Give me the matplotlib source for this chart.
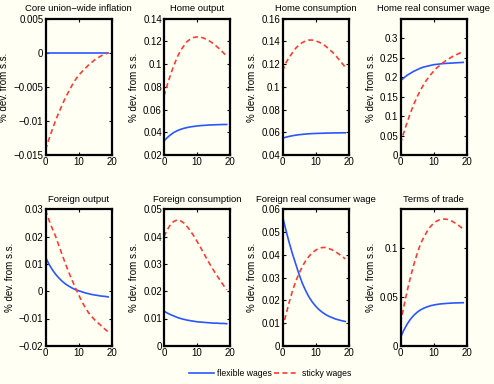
import numpy as np
import matplotlib
matplotlib.use("Agg")
import matplotlib.pyplot as plt
from matplotlib.ticker import FuncFormatter

# ====================
# basic style
# ====================
plt.rcParams['font.family'] = ['Liberation Sans', 'DejaVu Sans']
plt.rcParams['font.size'] = 7
plt.rcParams['axes.linewidth'] = 1.6
plt.rcParams['xtick.direction'] = 'in'
plt.rcParams['ytick.direction'] = 'in'

BG = '#fffff4'
BLUE = '#2a56ff'
RED = '#ff3b30'

# ====================
# data (horizon 0..19)
# ====================
periods = np.arange(20)

titles = ["Core union\u2212wide inflation", "Home output", "Home consumption",
          "Home real consumer wage", "Foreign output", "Foreign consumption",
          "Foreign real consumer wage", "Terms of trade"]

flex_infl = [0.0] * 20
sticky_infl = [-0.0142, -0.0127, -0.0113, -0.0100, -0.0088, -0.0077, -0.0066, -0.0057,
               -0.0048, -0.0040, -0.0033, -0.0028, -0.0023, -0.0018, -0.0014, -0.0010,
               -0.0007, -0.0004, -0.0002, 0.0000]

flex_hy = [0.0325, 0.0355, 0.0380, 0.0400, 0.0415, 0.0427, 0.0436, 0.0443, 0.0449, 0.0453,
           0.0457, 0.0460, 0.0462, 0.0464, 0.0466, 0.0467, 0.0468, 0.0469, 0.0470, 0.0470]
sticky_hy = [0.072, 0.082, 0.091, 0.099, 0.106, 0.112, 0.116, 0.120, 0.122, 0.1235,
             0.124, 0.1238, 0.123, 0.1215, 0.120, 0.118, 0.1155, 0.113, 0.110, 0.107]

flex_hc = [0.0550, 0.0558, 0.0565, 0.0571, 0.0576, 0.0580, 0.0583, 0.0586, 0.0588, 0.0590,
           0.0591, 0.0592, 0.0593, 0.0594, 0.0595, 0.0595, 0.0596, 0.0596, 0.0597, 0.0597]
sticky_hc = [0.114, 0.121, 0.126, 0.130, 0.134, 0.137, 0.139, 0.1405, 0.1412, 0.1412,
             0.1405, 0.1395, 0.138, 0.136, 0.1335, 0.131, 0.128, 0.1245, 0.121, 0.1175]

flex_hw = [0.191, 0.198, 0.205, 0.210, 0.215, 0.219, 0.223, 0.226, 0.228, 0.230,
           0.232, 0.233, 0.234, 0.235, 0.2355, 0.236, 0.2365, 0.237, 0.2375, 0.238]
sticky_hw = [0.030, 0.058, 0.084, 0.108, 0.130, 0.149, 0.166, 0.181, 0.194, 0.205,
             0.215, 0.224, 0.231, 0.238, 0.244, 0.249, 0.254, 0.258, 0.262, 0.266]

flex_fy = [0.0125, 0.0100, 0.0080, 0.0063, 0.0049, 0.0037, 0.0027, 0.0019, 0.0012, 0.0006,
           0.0002, -0.0002, -0.0006, -0.0009, -0.0012, -0.0014, -0.0016, -0.0018, -0.0019, -0.0021]
sticky_fy = [0.0297, 0.0262, 0.0231, 0.0203, 0.0169, 0.0135, 0.0102, 0.0071, 0.0042, 0.0014,
             -0.0012, -0.0037, -0.0059, -0.0078, -0.0093, -0.0106, -0.0117, -0.0128, -0.0139, -0.0149]

flex_fc = [0.0127, 0.0120, 0.0114, 0.0109, 0.0104, 0.0100, 0.0097, 0.0094, 0.0092, 0.0090,
           0.0088, 0.0087, 0.0086, 0.0085, 0.0084, 0.0083, 0.0083, 0.0082, 0.0082, 0.0081]
sticky_fc = [0.0400, 0.0425, 0.0445, 0.0456, 0.0461, 0.0458, 0.0450, 0.0437, 0.0421, 0.0403,
             0.0383, 0.0362, 0.0340, 0.0318, 0.0297, 0.0277, 0.0258, 0.0240, 0.0222, 0.0205]

flex_fw = [0.0570, 0.0510, 0.0455, 0.0405, 0.0360, 0.0315, 0.0275, 0.0243, 0.0215, 0.0193,
           0.0175, 0.0160, 0.0148, 0.0138, 0.0130, 0.0124, 0.0118, 0.0114, 0.0110, 0.0107]
sticky_fw = [0.0078, 0.0135, 0.0190, 0.0240, 0.0283, 0.0318, 0.0348, 0.0373, 0.0393, 0.0409,
             0.0420, 0.0428, 0.0432, 0.0432, 0.0428, 0.0422, 0.0414, 0.0404, 0.0394, 0.0382]

flex_tot = [0.0085, 0.0160, 0.0222, 0.0272, 0.0312, 0.0343, 0.0367, 0.0385, 0.0399, 0.0410,
            0.0418, 0.0424, 0.0429, 0.0432, 0.0435, 0.0437, 0.0439, 0.0440, 0.0441, 0.0442]
sticky_tot = [0.0235, 0.040, 0.056, 0.070, 0.083, 0.094, 0.104, 0.111, 0.117, 0.122,
              0.1255, 0.128, 0.1295, 0.130, 0.1298, 0.129, 0.127, 0.125, 0.1225, 0.1195]

flex_all = [flex_infl, flex_hy, flex_hc, flex_hw, flex_fy, flex_fc, flex_fw, flex_tot]
sticky_all = [sticky_infl, sticky_hy, sticky_hc, sticky_hw, sticky_fy, sticky_fc, sticky_fw, sticky_tot]

# y limits and ticks per panel (matlab style)
ylims = [(-0.015, 0.005), (0.02, 0.14), (0.04, 0.16), (0.0, 0.35),
         (-0.02, 0.03), (0.0, 0.05), (0.0, 0.06), (0.0, 0.14)]
yticks = [[-0.015, -0.01, -0.005, 0, 0.005],
          [0.02, 0.04, 0.06, 0.08, 0.1, 0.12, 0.14],
          [0.04, 0.06, 0.08, 0.1, 0.12, 0.14, 0.16],
          [0, 0.05, 0.1, 0.15, 0.2, 0.25, 0.3],
          [-0.02, -0.01, 0, 0.01, 0.02, 0.03],
          [0, 0.01, 0.02, 0.03, 0.04, 0.05],
          [0, 0.01, 0.02, 0.03, 0.04, 0.05, 0.06],
          [0, 0.05, 0.1]]

fmt = FuncFormatter(lambda v, p: ('%g' % round(v, 6)).replace('-', '\u2212'))

# ====================
# figure
# ====================
W, H = 494, 384
fig = plt.figure(figsize=(W / 100, H / 100), dpi=100, facecolor=BG)

lefts = [45.5, 164.0, 282.5, 400.5]
tops = [18.7, 209.3]
aw, ah = 66.0, 136.5

for i in range(8):
    r, c = divmod(i, 4)
    ax = fig.add_axes([lefts[c] / W, 1 - (tops[r] + ah) / H, aw / W, ah / H])
    ax.set_facecolor(BG)
    l1, = ax.plot(periods, flex_all[i], color=BLUE, lw=1.2)
    l2, = ax.plot(periods, sticky_all[i], color=RED, lw=1.2, ls=(0, (3, 2)))
    ax.set_xlim(0, 20)
    ax.set_xticks([0, 10, 20])
    ax.set_ylim(*ylims[i])
    ax.set_yticks(yticks[i])
    ax.yaxis.set_major_formatter(fmt)
    ax.tick_params(top=True, right=True, length=2.5, width=0.8, pad=1.5, labelsize=7)
    ax.set_title(titles[i], fontsize=6.8, pad=5.5)
    ax.set_ylabel("% dev. from s.s.", fontsize=7, labelpad=3)

fig.legend([l1, l2], ["flexible wages", "sticky wages"], loc='center',
           bbox_to_anchor=(270 / W, 1 - 374 / H), ncol=2, frameon=False, fontsize=6.2,
           handlelength=3.0, handletextpad=0.3, columnspacing=0.2)

fig.savefig("out.png", dpi=100, facecolor=BG)
